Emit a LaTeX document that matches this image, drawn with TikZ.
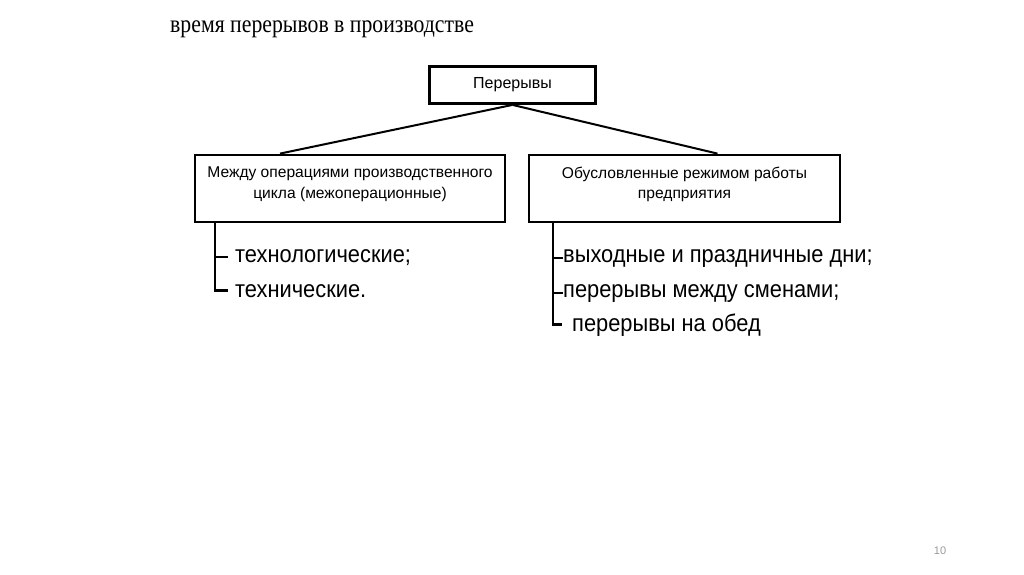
\documentclass[tikz,border=0pt]{standalone}
\usepackage{fontspec}
\setmainfont{Liberation Sans}
\newfontfamily\titlefont[FakeStretch=0.87]{Liberation Serif}
\newfontfamily\itemfont[FakeStretch=0.91]{Liberation Sans}
\usetikzlibrary{positioning}

\begin{document}
\begin{tikzpicture}[x=1pt,y=-1pt,
    box/.style={draw,line width=2.8pt,inner sep=0pt},
    boxtext/.style={anchor=north,inner sep=0pt,align=center,
                    font=\fontsize{15.6}{20.5}\selectfont},
    item/.style={anchor=base west,inner sep=0pt,font=\itemfont\fontsize{24}{28}\selectfont},
    brace/.style={line width=2.8pt}]
    \useasboundingbox (0,0) rectangle (1024,574);
    % title
    \node[anchor=base west,inner sep=0pt,font=\titlefont\fontsize{25}{30}\selectfont] (title) at (170,32) {время перерывов в производстве};
    % boxes
    \node[box,minimum width=166,minimum height=37,font=\fontsize{16}{19}\selectfont] (top) at (512.5,85) {Перерывы};
    \node[box,minimum width=310,minimum height=67] (left) at (350,188.5) {};
    \node[box,minimum width=311,minimum height=67] (right) at (684.5,188.5) {};
    \node[boxtext] (lefttext) at ([yshift=-13]left.north) {Между операциями производственного\\цикла (межоперационные)};
    \node[boxtext] (righttext) at ([yshift=-13]right.north) {Обусловленные режимом работы\\предприятия};
    % connectors
    \coordinate (lend) at ([xshift=-70]left.north);
    \coordinate (rend) at ([xshift=33]right.north);
    \draw[line width=2pt] (top.south) -- (lend);
    \draw[line width=2pt] (top.south) -- (rend);
    % left list
    \node[item] (l1) at (235,262) {технологические;};
    \node[item] (l2) at (235,297) {технические.};
    \coordinate (lb) at (215,222);
    \draw[brace] (lb) -- (lb |- l2.west) -- ++(13,0);
    \draw[brace] (lb |- l1.west) -- ++(13,0);
    % right list
    \node[item] (r1) at (563,262) {выходные и праздничные дни;};
    \node[item] (r2) at (563,297) {перерывы между сменами;};
    \node[item] (r3) at (572,331) {перерывы на обед};
    \coordinate (rb) at (553,222);
    \draw[brace] (rb) -- (rb |- r3.west) -- ++(9,0);
    \draw[brace] (rb |- r1.west) -- ++(10,0);
    \draw[brace] (rb |- r2.west) -- ++(10,0);
    % page number
    \node[text=black!40,font=\fontsize{11}{13}\selectfont] (page) at (940,551) {10};
\end{tikzpicture}
\end{document}
